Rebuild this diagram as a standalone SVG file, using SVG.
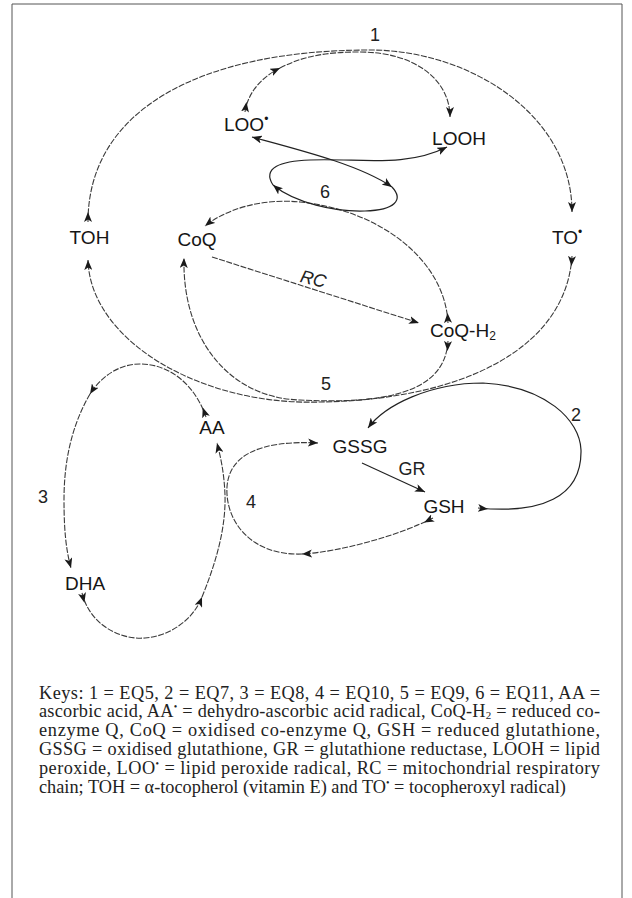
<svg xmlns="http://www.w3.org/2000/svg" width="632" height="898" viewBox="0 0 632 898">
<style>
.n{font-family:Arial,"Liberation Sans",sans-serif;font-size:19px;fill:#151515}
.l{font-family:Arial,"Liberation Sans",sans-serif;font-size:18px;fill:#222}
.c{font-family:"Times New Roman","Liberation Serif",serif;font-size:18.3px;fill:#222}
.s{fill:none;stroke:#222;stroke-width:1.2}
.d{fill:none;stroke:#3a3a3a;stroke-width:1.1;stroke-dasharray:6 1.5}
</style>
<defs>
<marker id="ae" viewBox="0 0 10 8" refX="10" refY="4" markerWidth="10" markerHeight="8" markerUnits="userSpaceOnUse" orient="auto"><path d="M0,0 L10,4 L0,8 L2.5,4 z" fill="#1a1a1a"/></marker>
<marker id="as" viewBox="0 0 10 8" refX="0" refY="4" markerWidth="10" markerHeight="8" markerUnits="userSpaceOnUse" orient="auto"><path d="M0,0 L10,4 L0,8 L2.5,4 z" fill="#1a1a1a"/></marker>
<marker id="ar" viewBox="0 0 10 8" refX="10" refY="4" markerWidth="10" markerHeight="8" markerUnits="userSpaceOnUse" orient="auto-start-reverse"><path d="M0,0 L10,4 L0,8 L2.5,4 z" fill="#1a1a1a"/></marker>
</defs>
<rect width="632" height="898" fill="#fff"/>
<path d="M12,898 V4 H622 V898" fill="none" stroke="#555" stroke-width="1"/>

<g id="connectors">
<!-- reaction 1 -->
<path class="d" d="M88,222 C88,110 200,50 370,50 C470,50 572,115 572,212" marker-start="url(#as)" marker-end="url(#ae)"/>
<path class="d" d="M245,112 C248,92 262,77 280,68" marker-start="url(#as)" marker-end="url(#ae)"/>
<path class="d" d="M280,68 C305,55 330,52 360,52 C415,52 450,80 450,117" marker-end="url(#ae)"/>
<!-- reaction 5 -->
<path class="d" d="M572,256 C566,350 460,400 320,402 C200,406 90,340 88,260" marker-start="url(#as)" marker-end="url(#ae)"/>
<path class="d" d="M448,341 C445,395 380,404 300,400 C230,398 182,340 184,258" marker-start="url(#as)" marker-end="url(#ae)"/>
<!-- reaction 6 -->
<path class="d" d="M448,323 C445,260 380,210 300,202 C260,198 225,210 205,226" marker-start="url(#as)" marker-end="url(#ae)"/>
<path class="s" d="M252,137 C300,150 360,165 392,187" marker-start="url(#ar)" marker-end="url(#ae)"/>
<path class="s" d="M392,187 C404,200 395,210 365,211 C335,212 295,203 273,185" marker-end="url(#ae)"/>
<path class="s" d="M273,185 C262,168 280,161 310,160 C360,158 405,168 447,147" marker-end="url(#ae)"/>
<!-- RC -->
<path class="d" d="M212,257 L419,323" marker-end="url(#ae)"/>
<!-- reaction 2 -->
<path class="s" d="M478,508 C540,514 582,498 581,450 C580,420 545,386 483,383 C430,383 385,405 368,428" marker-start="url(#as)" marker-end="url(#ae)"/>
<!-- GR -->
<path class="s" d="M362,463 L425,492" marker-end="url(#ae)"/>
<!-- reaction 4 -->
<path class="d" d="M433,518 C400,535 340,552 302,554" marker-start="url(#as)" marker-end="url(#ae)"/>
<path class="d" d="M302,554 C250,556 225,520 227,487 C229,455 260,440 318,443" marker-end="url(#ae)"/>
<!-- reaction 3 -->
<path class="d" d="M206,417 C195,385 170,364 140,364 C118,364 100,378 90,394" marker-start="url(#as)" marker-end="url(#ae)"/>
<path class="d" d="M90,394 C72,425 64,460 64,500 C64,530 66,550 71,568" marker-end="url(#ae)"/>
<path class="d" d="M82,593 C90,625 120,640 145,638 C170,636 193,620 202,597" marker-start="url(#as)" marker-end="url(#ae)"/>
<path class="d" d="M202,597 C215,565 226,530 225,495 C224,470 220,455 217,443" marker-end="url(#ae)"/>
</g>

<g id="node-LOO"><text class="n" x="224" y="131">LOO<tspan font-size="12" dy="-8">•</tspan></text></g>
<g id="node-LOOH"><text class="n" x="459" y="145" text-anchor="middle">LOOH</text></g>
<g id="node-TOH"><text class="n" x="89.5" y="244" text-anchor="middle">TOH</text></g>
<g id="node-CoQ"><text class="n" x="197" y="246" text-anchor="middle">CoQ</text></g>
<g id="node-TO"><text class="n" x="552" y="244">TO<tspan font-size="12" dy="-8">•</tspan></text></g>
<g id="node-CoQH2"><text class="n" x="430" y="337">CoQ-H<tspan font-size="12" dy="3">2</tspan></text></g>
<g id="node-AA"><text class="n" x="212" y="434" text-anchor="middle">AA</text></g>
<g id="node-GSSG"><text class="n" x="360" y="453" text-anchor="middle">GSSG</text></g>
<g id="node-GSH"><text class="n" x="444" y="513" text-anchor="middle">GSH</text></g>
<g id="node-DHA"><text class="n" x="85" y="590" text-anchor="middle">DHA</text></g>

<g id="labels">
<text class="l" x="375" y="41" text-anchor="middle">1</text>
<text class="l" x="325" y="198" text-anchor="middle">6</text>
<text class="l" x="313" y="285" text-anchor="middle" font-style="italic" transform="rotate(14 313 280)">RC</text>
<text class="l" x="326" y="390" text-anchor="middle">5</text>
<text class="l" x="576" y="421" text-anchor="middle">2</text>
<text class="l" x="412" y="475" text-anchor="middle">GR</text>
<text class="l" x="43" y="503" text-anchor="middle">3</text>
<text class="l" x="251" y="508" text-anchor="middle">4</text>
</g>

<g id="caption">
<text class="c" x="39" y="698.5" textLength="561" lengthAdjust="spacing">Keys: 1 = EQ5, 2 = EQ7, 3 = EQ8, 4 = EQ10, 5 = EQ9, 6 = EQ11, AA =</text>
<text class="c" x="39" y="717.3" textLength="561" lengthAdjust="spacing">ascorbic acid, AA<tspan font-size="10" dy="-7">•</tspan><tspan dy="7"> = dehydro-ascorbic acid radical, CoQ-H</tspan><tspan font-size="11" dy="2">2</tspan><tspan dy="-2"> = reduced co-</tspan></text>
<text class="c" x="39" y="736.1" textLength="561" lengthAdjust="spacing">enzyme Q, CoQ = oxidised co-enzyme Q, GSH = reduced glutathione,</text>
<text class="c" x="39" y="754.9" textLength="561" lengthAdjust="spacing">GSSG = oxidised glutathione, GR = glutathione reductase, LOOH = lipid</text>
<text class="c" x="39" y="773.7" textLength="561" lengthAdjust="spacing">peroxide, LOO<tspan font-size="10" dy="-7">•</tspan><tspan dy="7"> = lipid peroxide radical, RC = mitochondrial respiratory</tspan></text>
<text class="c" x="39" y="792.5">chain; TOH = α-tocopherol (vitamin E) and TO<tspan font-size="10" dy="-7">•</tspan><tspan dy="7"> = tocopheroxyl radical)</tspan></text>
</g>
</svg>
